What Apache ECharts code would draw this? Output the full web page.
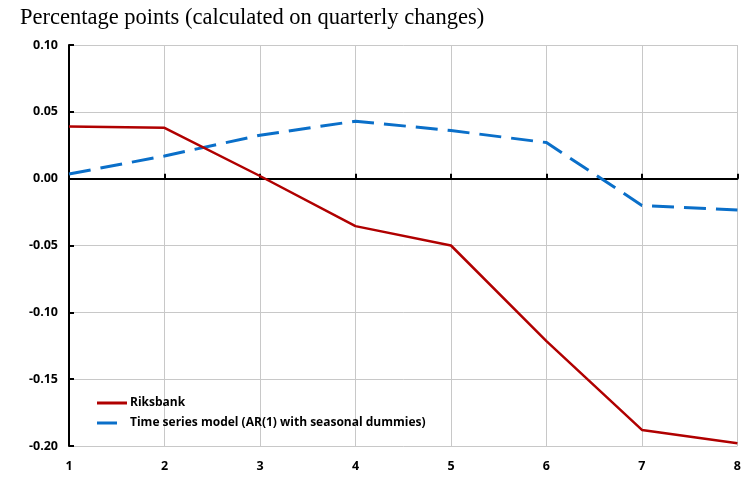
<!DOCTYPE html>
<html><head><meta charset="utf-8">
<script src="https://cdn.jsdelivr.net/npm/echarts@6/dist/echarts.min.js"></script>
<style>html,body{margin:0;padding:0;background:#fff}#c{width:744px;height:477px}</style>
</head><body><div id="c"></div>
<script>
const categories = ['1','2','3','4','5','6','7','8'];
const riksbank = [0.039, 0.038, 0.002, -0.0355, -0.050, -0.1215, -0.188, -0.198];
const timeSeries = [0.0035, 0.017, 0.0325, 0.043, 0.036, 0.027, -0.020, -0.0235];
const seriesNames = ['Riksbank', 'Time series model (AR(1) with seasonal dummies)'];
const titleText = 'Percentage points (calculated on quarterly changes)';

const chart = echarts.init(document.getElementById('c'));
const lblFont = {fontFamily: 'Open Sans', fontWeight: 'bold', fontSize: 12.5, color: '#000'};
chart.setOption({
  animation: false,
  title: {text: titleText, left: 15, top: 2, textStyle: {fontFamily: 'Liberation Serif', fontWeight: 'normal', fontSize: 22.5, color: '#000'}},
  grid: {left: 69, right: 6, top: 45, bottom: 31},
  legend: {
    orient: 'vertical', left: 92, top: 392, itemGap: 8, itemWidth: 30, itemHeight: 3,
    textStyle: {fontFamily: 'Open Sans', fontWeight: 'bold', fontSize: 12, color: '#000', padding: [0, 0, 0, -2]},
    data: [
      {name: seriesNames[0], icon: 'rect'},
      {name: seriesNames[1], icon: 'path://M0,0L20,0L20,3L0,3Z M30,3L30,3'}
    ]
  },
  xAxis: [{
    type: 'category', data: categories, boundaryGap: false,
    axisLine: {onZero: true, lineStyle: {color: '#000', width: 2}},
    axisTick: {show: true, inside: true, length: 5, lineStyle: {color: '#000', width: 2}},
    axisLabel: {show: false},
    splitLine: {show: true, lineStyle: {color: '#c8c8c8', width: 1}}
  }, {
    type: 'category', data: categories, boundaryGap: false, position: 'bottom',
    axisLine: {show: false, onZero: false}, axisTick: {show: false},
    axisLabel: Object.assign({margin: 14}, lblFont),
    splitLine: {show: false}
  }],
  yAxis: {
    type: 'value', min: -0.20, max: 0.10, interval: 0.05,
    axisLine: {show: true, lineStyle: {color: '#000', width: 2}},
    axisTick: {show: true, inside: true, length: 5, lineStyle: {color: '#000', width: 2}},
    axisLabel: Object.assign({margin: 11, formatter: v => v.toFixed(2)}, lblFont),
    splitLine: {show: true, lineStyle: {color: '#c8c8c8', width: 1}}
  },
  series: [{
    name: seriesNames[0], type: 'line', data: riksbank, symbol: 'none', xAxisIndex: 0,
    lineStyle: {color: '#b00000', width: 2.5}, itemStyle: {color: '#b00000'}, z: 3
  }, {
    name: seriesNames[1], type: 'line', data: timeSeries, symbol: 'none', xAxisIndex: 0,
    lineStyle: {color: '#0a6fc9', width: 3, type: [22, 10]}, itemStyle: {color: '#0a6fc9'}, z: 2
  }]
});
</script></body></html>
